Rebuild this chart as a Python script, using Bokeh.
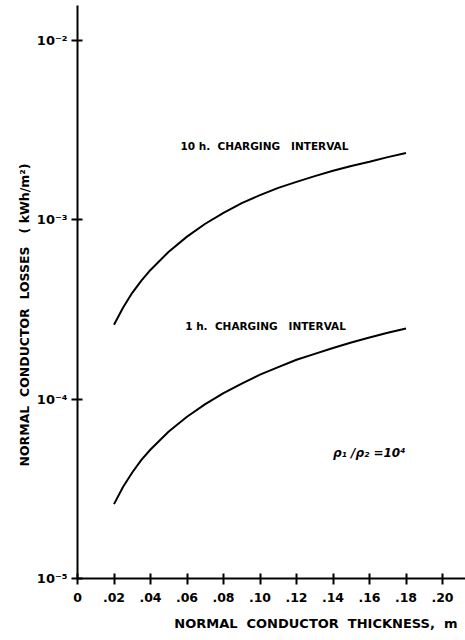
from bokeh.plotting import figure
from bokeh.models import FixedTicker, Label, Range1d, Title
from bokeh.embed import file_html
from bokeh.resources import INLINE

# ---- data ----
thickness = [0.02, 0.025, 0.03, 0.035, 0.04, 0.05, 0.06, 0.07, 0.08, 0.09, 0.10, 0.11, 0.12,
             0.13, 0.14, 0.15, 0.16, 0.17, 0.18]
loss_10h = [2.60e-4, 3.25e-4, 3.92e-4, 4.59e-4, 5.26e-4, 6.65e-4, 8.07e-4, 9.52e-4, 1.096e-3,
            1.24e-3, 1.375e-3, 1.51e-3, 1.63e-3, 1.755e-3, 1.88e-3, 2.00e-3, 2.11e-3, 2.24e-3, 2.36e-3]
loss_1h = [2.60e-5, 3.25e-5, 3.90e-5, 4.59e-5, 5.24e-5, 6.60e-5, 7.98e-5, 9.38e-5, 1.08e-4,
           1.22e-4, 1.37e-4, 1.51e-4, 1.66e-4, 1.79e-4, 1.93e-4, 2.07e-4, 2.21e-4, 2.35e-4, 2.48e-4]

x_ticks = [0, 0.02, 0.04, 0.06, 0.08, 0.10, 0.12, 0.14, 0.16, 0.18, 0.20]
x_tick_labels = ["0", ".02", ".04", ".06", ".08", ".10", ".12", ".14", ".16", ".18", ".20"]
y_ticks = [1e-5, 1e-4, 1e-3, 1e-2]
y_tick_labels = ["10\u207b\u2075", "10\u207b\u2074", "10\u207b\u00b3", "10\u207b\u00b2"]

NB = "\u00a0"
label_10h = "10 h." + NB * 2 + "CHARGING" + NB * 3 + "INTERVAL"
label_1h = "1 h." + NB * 2 + "CHARGING" + NB * 3 + "INTERVAL"
ratio_label = "\u03c1\u2081 /\u03c1\u2082 =10\u2074"
x_title = "NORMAL" + NB * 2 + "CONDUCTOR" + NB * 2 + "THICKNESS," + NB * 2 + "m"
y_title = "NORMAL" + NB * 2 + "CONDUCTOR" + NB * 2 + "LOSSES" + NB * 3 + "(" + NB + "kWh/m\u00b2)"

FONT = "DejaVu Sans"

p = figure(width=465, height=640, y_axis_type="log",
           x_range=Range1d(0, 0.2126), y_range=Range1d(1e-5, 0.0157),
           output_backend="svg", toolbar_location=None,
           min_border_left=77, min_border_right=0, min_border_top=5, min_border_bottom=62)
p.outline_line_color = None
p.grid.visible = False
p.background_fill_color = "white"

p.xaxis.ticker = FixedTicker(ticks=x_ticks)
p.xaxis.major_label_overrides = {t: l for t, l in zip(x_ticks, x_tick_labels)}
p.yaxis.ticker = FixedTicker(ticks=y_ticks)
p.yaxis.major_label_overrides = {t: l for t, l in zip(y_ticks, y_tick_labels)}

for ax in (p.xaxis, p.yaxis):
    ax.axis_line_width = 2
    ax.axis_line_color = "black"
    ax.major_tick_line_width = 2
    ax.major_tick_line_color = "black"
    ax.major_tick_in = 5
    ax.major_tick_out = 6
    ax.minor_tick_line_color = None
    ax.major_label_text_font = FONT
    ax.major_label_text_font_style = "bold"
    ax.major_label_text_color = "black"

p.xaxis.major_label_text_font_size = "12.5px"
p.xaxis.major_label_standoff = 8
p.yaxis.major_label_text_font_size = "13px"
p.yaxis.major_label_standoff = 4

p.line(thickness, loss_10h, line_width=2, line_color="black")
p.line(thickness, loss_1h, line_width=2, line_color="black")

p.add_layout(Label(x=0.0564, y=2.59e-3, text=label_10h, text_font=FONT, text_font_style="bold",
                   text_font_size="10.5px", text_baseline="middle", text_color="black"))
p.add_layout(Label(x=0.0590, y=2.56e-4, text=label_1h, text_font=FONT, text_font_style="bold",
                   text_font_size="10.5px", text_baseline="middle", text_color="black"))
p.add_layout(Label(x=0.140, y=5.0e-5, text=ratio_label, text_font=FONT, text_font_style="bold italic",
                   text_font_size="12px", text_baseline="middle", text_color="black"))

p.add_layout(Title(text=x_title, align="right", offset=8, standoff=19, text_font=FONT,
                   text_font_style="bold", text_font_size="13px", text_line_height=1.0,
                   vertical_align="bottom", text_color="black"), "below")
p.add_layout(Title(text=y_title, align="left", offset=112, standoff=4, text_font=FONT,
                   text_font_style="bold", text_font_size="12.5px", text_color="black"), "left")

open("out.html", "w").write(file_html(p, INLINE))
